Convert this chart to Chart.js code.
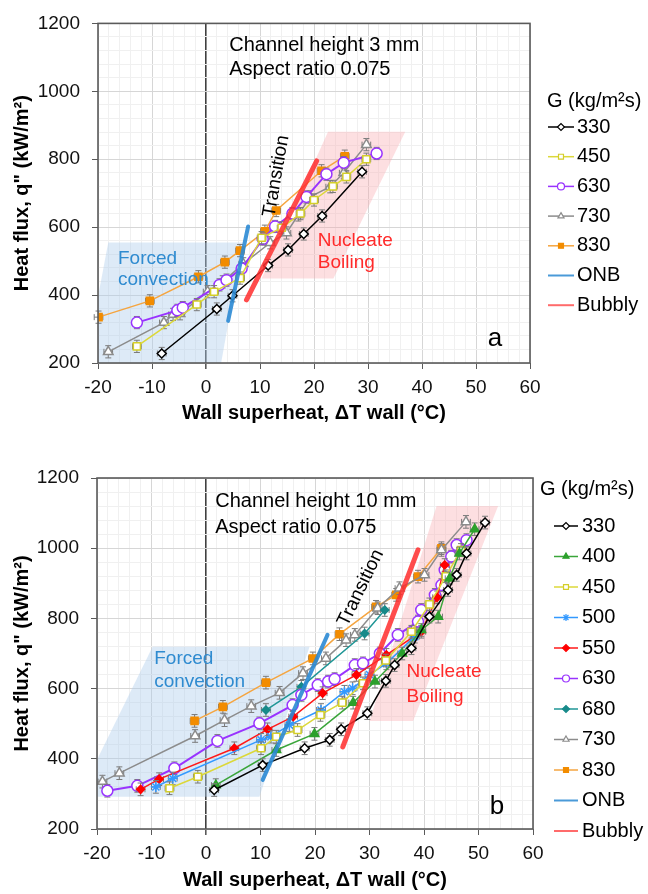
<!DOCTYPE html>
<html>
<head>
<meta charset="utf-8">
<script src="https://cdn.jsdelivr.net/npm/chart.js@4.4.1/dist/chart.umd.min.js"></script>
<style>
  html, body { margin: 0; padding: 0; background: #fff; }
  .panel { position: absolute; left: 0; }
  #panelA { top: 0; }
  #panelB { top: 440px; }
</style>
</head>
<body>
<div class="panel" id="panelA"><canvas id="chartA" width="648" height="430"></canvas></div>
<div class="panel" id="panelB"><canvas id="chartB" width="648" height="454"></canvas></div>
<script>
// ---- axes ----
const X_MIN = -20, X_MAX = 60, X_MAJOR = 10, X_MINOR = 2;
const Y_MIN = 200, Y_MAX = 1200, Y_MAJOR = 200, Y_MINOR = 40;
const ERR_Y = 18;   // kW/m2
const ERR_X = 0.8;  // degC

// ---- panel a : channel height 3 mm ----
const A_G330_X = [-8.2, 2.0, 4.9, 11.5, 15.2, 18.1, 21.5, 28.9];
const A_G330_Y = [228, 359, 398, 487, 533, 580, 633, 763];
const A_G450_X = [-12.8, -1.7, 1.5, 6.3, 10.3, 14.0, 17.5, 20.0, 23.5, 26.0, 29.7];
const A_G450_Y = [249, 372, 410, 450, 569, 598, 640, 680, 720, 748, 800];
const A_G630_X = [-12.8, -5.3, -4.3, 2.5, 3.8, 6.6, 10.5, 12.8, 16.0, 18.6, 22.3, 25.5, 31.6];
const A_G630_Y = [319, 355, 363, 430, 444, 478, 565, 602, 640, 689, 756, 790, 817];
const A_G730_X = [-18.1, -7.8, -6.1, -4.8, 0.3, 3.1, 6.9, 11.9, 14.9, 17.1, 19.3, 23.0, 25.5, 29.7];
const A_G730_Y = [233, 319, 343, 345, 410, 439, 492, 554, 583, 636, 689, 719, 760, 843];
const A_G830_X = [-19.9, -10.4, -1.4, 3.5, 6.3, 10.9, 13.0, 21.4, 25.7];
const A_G830_Y = [335, 383, 454, 497, 531, 588, 649, 766, 809];
const A_ONB_X = [4.1, 7.8];
const A_ONB_Y = [324, 602];
const A_BUBBLY_X = [7.5, 20.5];
const A_BUBBLY_Y = [386, 795];
const A_FORCED_X = [-20, -20, -18.1, 6.8, 2.8];
const A_FORCED_Y = [200, 395, 555, 555, 200];
const A_NUCLEATE_X = [10.3, 22.6, 36.9, 23.6];
const A_NUCLEATE_Y = [449, 881, 881, 449];

// ---- panel b : channel height 10 mm ----
const B_G330_X = [1.5, 10.4, 18.1, 22.7, 24.8, 29.6, 33.0, 34.6, 37.7, 41.0, 44.4, 46.0, 47.8, 51.2];
const B_G330_Y = [311, 382, 430, 454, 484, 530, 622, 667, 715, 805, 881, 924, 985, 1073];
const B_G400_X = [1.8, 12.9, 19.9, 27.0, 31.0, 36.0, 39.5, 42.6, 44.7, 46.5, 49.3];
const B_G400_Y = [325, 425, 471, 560, 620, 700, 767, 805, 914, 985, 1054];
const B_G450_X = [-6.7, -1.5, 10.1, 12.9, 16.8, 21.0, 25.0, 28.8, 33.0, 37.7, 41.0, 44.0, 46.8];
const B_G450_Y = [316, 349, 430, 463, 482, 525, 560, 615, 680, 762, 840, 920, 995];
const B_G500_X = [-9.2, -6.1, 10.1, 11.9, 15.3, 21.1, 25.4, 26.9, 30.0, 33.1, 38.3];
const B_G500_Y = [320, 344, 454, 463, 496, 539, 591, 601, 640, 672, 748];
const B_G550_X = [-12.0, -8.6, 5.2, 11.3, 16.0, 21.4, 27.6, 33.1, 39.5, 42.4, 43.8];
const B_G550_Y = [313, 342, 430, 484, 520, 587, 639, 696, 762, 860, 952];
const B_G630_X = [-18.1, -12.6, -5.8, 2.1, 9.8, 15.9, 17.5, 20.5, 22.4, 23.6, 27.3, 28.8, 31.9, 35.2, 38.9, 39.5, 42.0, 43.2, 43.8, 45.0, 46.0, 47.8];
const B_G630_Y = [309, 323, 373, 451, 501, 553, 582, 610, 620, 627, 667, 672, 700, 753, 791, 824, 867, 895, 938, 976, 1009, 1023];
const B_G680_X = [11.0, 17.5, 29.1, 32.8];
const B_G680_Y = [539, 605, 757, 824];
const B_G730_X = [-19.0, -15.9, -2.0, 3.4, 8.3, 13.5, 17.8, 22.0, 25.7, 27.3, 31.5, 35.5, 40.1, 43.2, 47.7];
const B_G730_Y = [335, 359, 465, 510, 550, 588, 644, 686, 738, 753, 829, 886, 924, 995, 1075];
const B_G830_X = [-2.1, 3.1, 11.0, 19.6, 24.5, 31.2, 34.9, 38.9, 43.2];
const B_G830_Y = [508, 548, 617, 686, 755, 833, 867, 919, 1000];
const B_ONB_X = [10.4, 22.3];
const B_ONB_Y = [340, 753];
const B_BUBBLY_X = [25.1, 38.9];
const B_BUBBLY_Y = [434, 995];
const B_FORCED_X = [-20, -20, -9.8, 19.0, 9.8];
const B_FORCED_Y = [292, 397, 719, 719, 292];
const B_NUCLEATE_X = [30.0, 42.3, 53.6, 38.0];
const B_NUCLEATE_Y = [508, 1120, 1120, 508];

const FONT = '"Liberation Sans", Arial, sans-serif';

// marker / line style per mass flux
const STYLE = {
  330: { edge: '#000000', line: '#000000', shape: 'rectRot', fill: '#ffffff', r: 4.5 },
  400: { edge: '#2ca02c', line: '#3aa53a', shape: 'triangle', fill: '#2ca02c', r: 5 },
  450: { edge: '#d4ce2a', line: '#dcd83a', shape: 'rect', fill: '#ffffff', r: 5 },
  500: { edge: '#3399ff', line: '#3399ff', shape: 'star', fill: '#3399ff', r: 5 },
  550: { edge: '#ff0000', line: '#ff1a1a', shape: 'rectRot', fill: '#ff0000', r: 4 },
  630: { edge: '#9933ff', line: '#9933ff', shape: 'circle', fill: '#ffffff', r: 5.5 },
  680: { edge: '#178a8a', line: '#1f9696', shape: 'rectRot', fill: '#178a8a', r: 4 },
  730: { edge: '#8c8c8c', line: '#8c8c8c', shape: 'triangle', fill: '#ffffff', r: 5.5 },
  830: { edge: '#f28c00', line: '#f5a540', shape: 'rect', fill: '#f28c00', r: 5 }
};

function pts(xs, ys) {
  return xs.map((x, i) => ({ x: x, y: ys[i] }));
}

function series(g, xs, ys) {
  const s = STYLE[g];
  return {
    label: String(g),
    data: pts(xs, ys),
    borderColor: s.line,
    borderWidth: g === 630 ? 2 : 1.5,
    pointStyle: s.shape,
    pointRadius: s.r,
    pointBorderColor: s.edge,
    pointBackgroundColor: s.fill,
    pointBorderWidth: 1.5,
    fill: false,
    errorBars: true,
    legendShow: true,
    order: 1
  };
}

function guide(label, xs, ys, color, width, legendColor) {
  return {
    label: label,
    data: pts(xs, ys),
    borderColor: color,
    borderWidth: width,
    borderCapStyle: 'round',
    pointRadius: 0,
    fill: false,
    legendShow: true,
    legendLine: legendColor,
    legendWidth: 2,
    order: 0
  };
}

function region(xs, ys, color) {
  return {
    label: '',
    data: pts(xs, ys),
    borderWidth: 0,
    borderColor: 'rgba(0,0,0,0)',
    backgroundColor: color,
    pointRadius: 0,
    fill: 'shape',
    order: 5
  };
}

// vertical + horizontal error bars under each series
const errorBars = {
  id: 'errorBars',
  beforeDatasetDraw(chart, args) {
    const ds = chart.data.datasets[args.index];
    if (!ds.errorBars) return;
    const { ctx, scales: { x, y } } = chart;
    ctx.save();
    ctx.strokeStyle = '#7a7a7a';
    ctx.lineWidth = 1;
    ds.data.forEach(p => {
      const px = x.getPixelForValue(p.x), py = y.getPixelForValue(p.y);
      const y1 = y.getPixelForValue(p.y + ERR_Y), y2 = y.getPixelForValue(p.y - ERR_Y);
      const x1 = x.getPixelForValue(p.x - ERR_X), x2 = x.getPixelForValue(p.x + ERR_X);
      ctx.beginPath();
      ctx.moveTo(px, y1); ctx.lineTo(px, y2);
      ctx.moveTo(px - 3, y1); ctx.lineTo(px + 3, y1);
      ctx.moveTo(px - 3, y2); ctx.lineTo(px + 3, y2);
      ctx.moveTo(x1, py); ctx.lineTo(x2, py);
      ctx.moveTo(x1, py - 3); ctx.lineTo(x1, py + 3);
      ctx.moveTo(x2, py - 3); ctx.lineTo(x2, py + 3);
      ctx.stroke();
    });
    ctx.restore();
  }
};

// dark box round the plot area
const frame = {
  id: 'frame',
  afterDatasetsDraw(chart) {
    const { ctx, chartArea: a } = chart;
    ctx.save();
    ctx.strokeStyle = '#5a5a5a';
    ctx.lineWidth = 1.6;
    ctx.strokeRect(a.left, a.top, a.right - a.left, a.bottom - a.top);
    ctx.restore();
  }
};

// text labels placed in data units
function makeNotes(items) {
  return {
    id: 'notes',
    afterDatasetsDraw(chart) {
      const { ctx, scales: { x, y } } = chart;
      items.forEach(n => {
        ctx.save();
        ctx.font = (n.bold ? 'bold ' : '') + n.size + 'px ' + FONT;
        ctx.fillStyle = n.color || '#000';
        ctx.textBaseline = 'middle';
        ctx.textAlign = n.align || 'left';
        ctx.translate(x.getPixelForValue(n.x), y.getPixelForValue(n.y));
        if (n.rot) ctx.rotate(n.rot * Math.PI / 180);
        ctx.fillText(n.text, 0, 0);
        ctx.restore();
      });
    }
  };
}

// legend with line + marker samples
function makeLegend(cfg) {
  return {
    id: 'gLegend',
    afterDraw(chart) {
      const ctx = chart.ctx;
      ctx.save();
      ctx.font = '20px ' + FONT;
      ctx.textBaseline = 'middle';
      ctx.textAlign = 'left';
      ctx.fillStyle = '#000';
      ctx.fillText('G (kg/m²s)', cfg.titleX, cfg.titleY);
      let row = 0;
      chart.data.datasets.forEach(ds => {
        if (!ds.legendShow) return;
        const yy = cfg.y0 + row * cfg.step;
        row++;
        ctx.strokeStyle = ds.legendLine || ds.borderColor;
        ctx.lineWidth = ds.legendWidth || 1.5;
        ctx.beginPath();
        ctx.moveTo(cfg.x0, yy);
        ctx.lineTo(cfg.x1, yy);
        ctx.stroke();
        if (ds.pointRadius > 0) {
          ctx.fillStyle = ds.pointBackgroundColor;
          ctx.strokeStyle = ds.pointBorderColor;
          ctx.lineWidth = 1.2;
          Chart.helpers.drawPoint(ctx, { pointStyle: ds.pointStyle, rotation: 0, radius: 3.5, borderWidth: 1.2 }, (cfg.x0 + cfg.x1) / 2, yy);
        }
        ctx.fillStyle = '#000';
        ctx.fillText(ds.label, cfg.textX, yy);
      });
      ctx.restore();
    }
  };
}

function isMult(v, step) {
  const r = Math.round(v);
  return Math.abs(v - r) < 1e-6 && r % step === 0;
}

function scales(yWidth, xHeight, xTitlePad) {
  return {
    x: {
      type: 'linear', min: X_MIN, max: X_MAX,
      afterFit: s => { s.height = xHeight; },
      ticks: {
        stepSize: X_MINOR, autoSkip: false, maxRotation: 0, padding: 7,
        color: '#111', font: { family: FONT, size: 19 },
        callback: v => isMult(v, X_MAJOR) ? String(Math.round(v)) : ''
      },
      grid: {
        color: c => Math.abs(c.tick.value) < 1e-6 ? '#404040' : (isMult(c.tick.value, X_MAJOR) ? '#d6d6d6' : '#f0f0f0'),
        lineWidth: c => Math.abs(c.tick.value) < 1e-6 ? 1.6 : 1,
        tickColor: c => isMult(c.tick.value, X_MAJOR) ? '#5a5a5a' : 'rgba(0,0,0,0)',
        tickLength: 6
      },
      border: { display: false },
      title: {
        display: true, text: 'Wall superheat, ΔT wall (°C)', color: '#000',
        font: { family: FONT, size: 20, weight: 'bold' },
        padding: { top: 0, bottom: xTitlePad }
      }
    },
    y: {
      type: 'linear', min: Y_MIN, max: Y_MAX,
      afterFit: s => { s.width = yWidth; },
      ticks: {
        stepSize: Y_MINOR, autoSkip: false, padding: 12,
        color: '#111', font: { family: FONT, size: 19 },
        callback: v => isMult(v, Y_MAJOR) ? String(Math.round(v)) : ''
      },
      grid: {
        color: c => isMult(c.tick.value, Y_MAJOR) ? '#d6d6d6' : '#f0f0f0',
        tickColor: c => isMult(c.tick.value, Y_MAJOR) ? '#5a5a5a' : 'rgba(0,0,0,0)',
        tickLength: 6
      },
      border: { display: false },
      title: {
        display: true, text: 'Heat flux, q" (kW/m²)', color: '#000',
        font: { family: FONT, size: 20, weight: 'bold' },
        padding: { top: 10, bottom: 0 }
      }
    }
  };
}

function build(canvasId, datasets, layout, notes, legend) {
  new Chart(document.getElementById(canvasId), {
    type: 'line',
    data: { datasets: datasets },
    options: {
      responsive: false,
      animation: false,
      layout: { padding: layout.padding },
      plugins: { legend: { display: false }, tooltip: { enabled: false } },
      elements: { line: { tension: 0 } },
      scales: scales(layout.yWidth, layout.xHeight, layout.xTitlePad)
    },
    plugins: [errorBars, frame, makeNotes(notes), makeLegend(legend)]
  });
}

// panel a
build('chartA', [
  series(330, A_G330_X, A_G330_Y),
  series(450, A_G450_X, A_G450_Y),
  series(630, A_G630_X, A_G630_Y),
  series(730, A_G730_X, A_G730_Y),
  series(830, A_G830_X, A_G830_Y),
  guide('ONB', A_ONB_X, A_ONB_Y, 'rgba(43,137,212,0.9)', 4, '#4a9ad8'),
  guide('Bubbly', A_BUBBLY_X, A_BUBBLY_Y, 'rgba(255,45,45,0.85)', 5, '#ff6b6b'),
  region(A_FORCED_X, A_FORCED_Y, 'rgba(173,205,235,0.42)'),
  region(A_NUCLEATE_X, A_NUCLEATE_Y, 'rgba(250,170,175,0.38)')
], { padding: { top: 16, right: 118, bottom: 0, left: 0 }, yWidth: 98, xHeight: 67, xTitlePad: 5 }, [
  { text: 'Channel height 3 mm', x: 4.3, y: 1134, size: 20 },
  { text: 'Aspect ratio 0.075', x: 4.3, y: 1065, size: 20 },
  { text: 'Forced', x: -16.3, y: 508, size: 19, color: '#2f8bd0' },
  { text: 'convection', x: -16.3, y: 445, size: 19, color: '#2f8bd0' },
  { text: 'Nucleate', x: 20.7, y: 560, size: 19, color: '#ff2a2a' },
  { text: 'Boiling', x: 20.7, y: 494, size: 19, color: '#ff2a2a' },
  { text: 'Transition', x: 13.0, y: 750, size: 19, rot: -80, align: 'center' },
  { text: 'a', x: 53.5, y: 272, size: 26, align: 'center' }
], { titleX: 547, titleY: 101, x0: 548, x1: 574, textX: 577, y0: 127, step: 29.7 });

// panel b
build('chartB', [
  series(330, B_G330_X, B_G330_Y),
  series(400, B_G400_X, B_G400_Y),
  series(450, B_G450_X, B_G450_Y),
  series(500, B_G500_X, B_G500_Y),
  series(550, B_G550_X, B_G550_Y),
  series(630, B_G630_X, B_G630_Y),
  series(680, B_G680_X, B_G680_Y),
  series(730, B_G730_X, B_G730_Y),
  series(830, B_G830_X, B_G830_Y),
  guide('ONB', B_ONB_X, B_ONB_Y, 'rgba(43,137,212,0.9)', 4, '#4a9ad8'),
  guide('Bubbly', B_BUBBLY_X, B_BUBBLY_Y, 'rgba(255,45,45,0.85)', 5, '#ff6b6b'),
  region(B_FORCED_X, B_FORCED_Y, 'rgba(173,205,235,0.42)'),
  region(B_NUCLEATE_X, B_NUCLEATE_Y, 'rgba(250,170,175,0.38)')
], { padding: { top: 38, right: 115, bottom: 0, left: 0 }, yWidth: 97, xHeight: 65, xTitlePad: 2 }, [
  { text: 'Channel height 10 mm', x: 1.7, y: 1132, size: 20 },
  { text: 'Aspect ratio 0.075', x: 1.7, y: 1060, size: 20 },
  { text: 'Forced', x: -9.5, y: 684, size: 19, color: '#2f8bd0' },
  { text: 'convection', x: -9.5, y: 619, size: 19, color: '#2f8bd0' },
  { text: 'Nucleate', x: 36.8, y: 647, size: 19, color: '#ff2a2a' },
  { text: 'Boiling', x: 36.8, y: 576, size: 19, color: '#ff2a2a' },
  { text: 'Transition', x: 28.4, y: 887, size: 19, rot: -64, align: 'center' },
  { text: 'b', x: 53.4, y: 263, size: 26, align: 'center' }
], { titleX: 540, titleY: 49, x0: 554, x1: 578, textX: 582, y0: 86, step: 30.5 });
</script>
</body>
</html>
